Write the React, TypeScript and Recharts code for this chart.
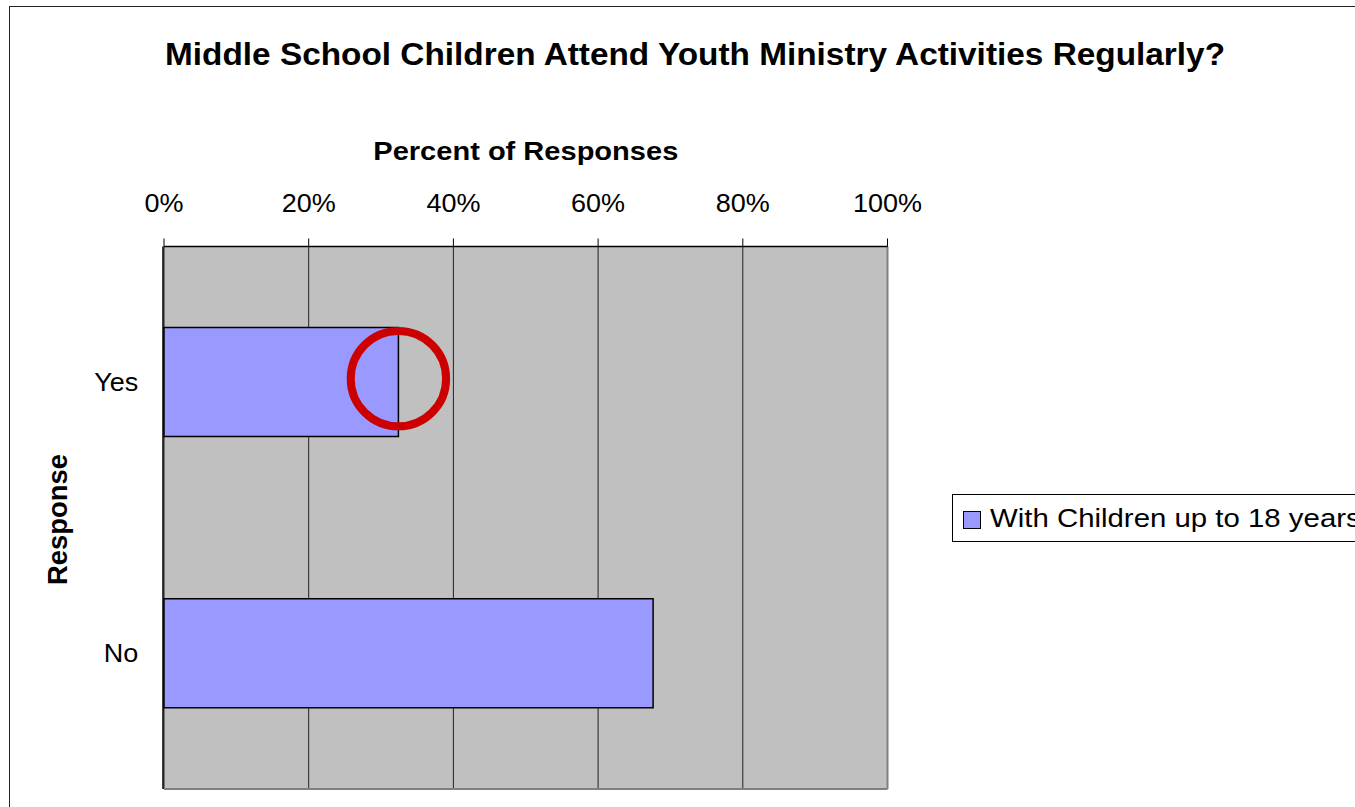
import React from "react";
import {
  BarChart,
  Bar,
  XAxis,
  YAxis,
  CartesianGrid,
  Legend,
  ReferenceLine,
  ReferenceDot,
} from "recharts";

// Chart data
const responses = ["Yes", "No"];
const withChildren = [32.4, 67.6];
const percentTicks = [0, 20, 40, 60, 80, 100];
const bandEdges = [0, 1, 2];
const seriesName = "With Children up to 18 years";
const circledResponse = "Yes";
const chartTitle = "Middle School Children Attend Youth Ministry Activities Regularly?";
const xTitle = "Percent of Responses";
const yTitle = "Response";

const FONT = '"Liberation Sans", Arial, sans-serif';
const BAR_FILL = "#9999FF";
const PLOT_FILL = "#C0C0C0";

const chartData = responses.map((response, i) => ({
  response,
  value: withChildren[i],
}));

function PercentTick({ x, y, payload }: any) {
  return (
    <g transform={`translate(${x},${y})`}>
      <text
        transform="scale(1.08,1)"
        textAnchor="middle"
        fontSize={25}
        fill="#000"
        fontFamily={FONT}
      >
        {`${payload.value}%`}
      </text>
    </g>
  );
}

function ResponseTick({ x, y, payload }: any) {
  return (
    <g transform={`translate(${x},${y})`}>
      <text
        transform="scale(1.08,1)"
        textAnchor="end"
        dy={8.7}
        fontSize={25}
        fill="#000"
        fontFamily={FONT}
      >
        {payload.value}
      </text>
    </g>
  );
}

function LegendBox() {
  return (
    <div
      style={{
        boxSizing: "border-box",
        width: 600,
        height: 48,
        border: "1px solid #000",
        background: "#fff",
        display: "flex",
        alignItems: "center",
        paddingLeft: 10,
        fontFamily: FONT,
        whiteSpace: "nowrap",
      }}
    >
      <div
        style={{
          boxSizing: "border-box",
          width: 18,
          height: 18,
          marginTop: 3,
          border: "1.5px solid #000",
          background: BAR_FILL,
          flex: "none",
        }}
      />
      <span
        style={{
          marginLeft: 9,
          fontSize: 26,
          display: "inline-block",
          transform: "scaleX(1.13)",
          transformOrigin: "left center",
          color: "#000",
        }}
      >
        {seriesName}
      </span>
    </div>
  );
}

export default function App() {
  return (
    <div
      style={{
        position: "absolute",
        left: 0,
        top: 0,
        width: 1355,
        height: 807,
        overflow: "hidden",
        background: "#fff",
        fontFamily: FONT,
      }}
    >
      {/* outer chart border, runs off the right and bottom */}
      <div
        style={{
          position: "absolute",
          left: 9,
          top: 6,
          width: 2000,
          height: 2000,
          border: "1.5px solid #222",
        }}
      />
      <div style={{ position: "absolute", left: 0, top: 0 }}>
        <BarChart
          width={1500}
          height={900}
          data={chartData}
          layout="vertical"
          margin={{ top: 196.5, right: 612.5, bottom: 110, left: 162 }}
          barSize={109}
        >
          <CartesianGrid
            horizontal={false}
            vertical={true}
            stroke="#222"
            strokeWidth={1}
            fill={PLOT_FILL}
            fillOpacity={1}
          />
          <XAxis
            type="number"
            orientation="top"
            domain={[0, 100]}
            ticks={percentTicks}
            interval={0}
            height={50}
            tickSize={8}
            tickMargin={26.5}
            tick={<PercentTick />}
            tickLine={{ stroke: "#000" }}
            axisLine={{ stroke: "#000", strokeWidth: 1.5 }}
          />
          <XAxis
            xAxisId="bottom"
            type="number"
            orientation="bottom"
            domain={[0, 100]}
            height={1}
            tick={false}
            tickLine={false}
            axisLine={{ stroke: "#808080", strokeWidth: 2 }}
          />
          <YAxis
            type="category"
            dataKey="response"
            width={1}
            axisLine={false}
            tickLine={false}
            tickSize={0}
            tickMargin={25.7}
            tick={<ResponseTick />}
          />
          <YAxis
            yAxisId="edges"
            type="number"
            domain={[0, 2]}
            ticks={bandEdges}
            interval={0}
            width={1}
            tick={false}
            tickSize={9}
            tickLine={{ stroke: "#000" }}
            axisLine={{ stroke: "#000", strokeWidth: 1.5 }}
          />
          <ReferenceLine x={100} stroke="#808080" strokeWidth={2} />
          <Bar
            dataKey="value"
            name={seriesName}
            fill={BAR_FILL}
            stroke="#000"
            strokeWidth={1.5}
            isAnimationActive={false}
          />
          <ReferenceDot
            x={withChildren[responses.indexOf(circledResponse)]}
            y={circledResponse}
            r={47.7}
            shape={(p: any) => (
              <circle
                cx={p.cx}
                cy={p.cy - 3.5}
                r={47.7}
                fill="none"
                stroke="#CC0000"
                strokeWidth={8}
              />
            )}
          />
          <Legend
            layout="horizontal"
            align="center"
            verticalAlign="middle"
            content={() => <LegendBox />}
            wrapperStyle={{ left: 952, top: 494, width: 600, height: 48 }}
          />
        </BarChart>
      </div>
      <svg
        width={1355}
        height={807}
        style={{ position: "absolute", left: 0, top: 0, pointerEvents: "none" }}
      >
        <text
          x={695}
          y={65}
          textAnchor="middle"
          fontSize={32}
          fontWeight="bold"
          fontFamily={FONT}
          textLength={1060}
          lengthAdjust="spacingAndGlyphs"
          fill="#000"
        >
          {chartTitle}
        </text>
        <text
          x={525.8}
          y={160}
          textAnchor="middle"
          fontSize={25}
          fontWeight="bold"
          fontFamily={FONT}
          textLength={305}
          lengthAdjust="spacingAndGlyphs"
          fill="#000"
        >
          {xTitle}
        </text>
        <text
          transform="translate(67.3,519.5) rotate(-90)"
          textAnchor="middle"
          fontSize={27}
          fontWeight="bold"
          fontFamily={FONT}
          textLength={131}
          lengthAdjust="spacingAndGlyphs"
          fill="#000"
        >
          {yTitle}
        </text>
      </svg>
    </div>
  );
}
